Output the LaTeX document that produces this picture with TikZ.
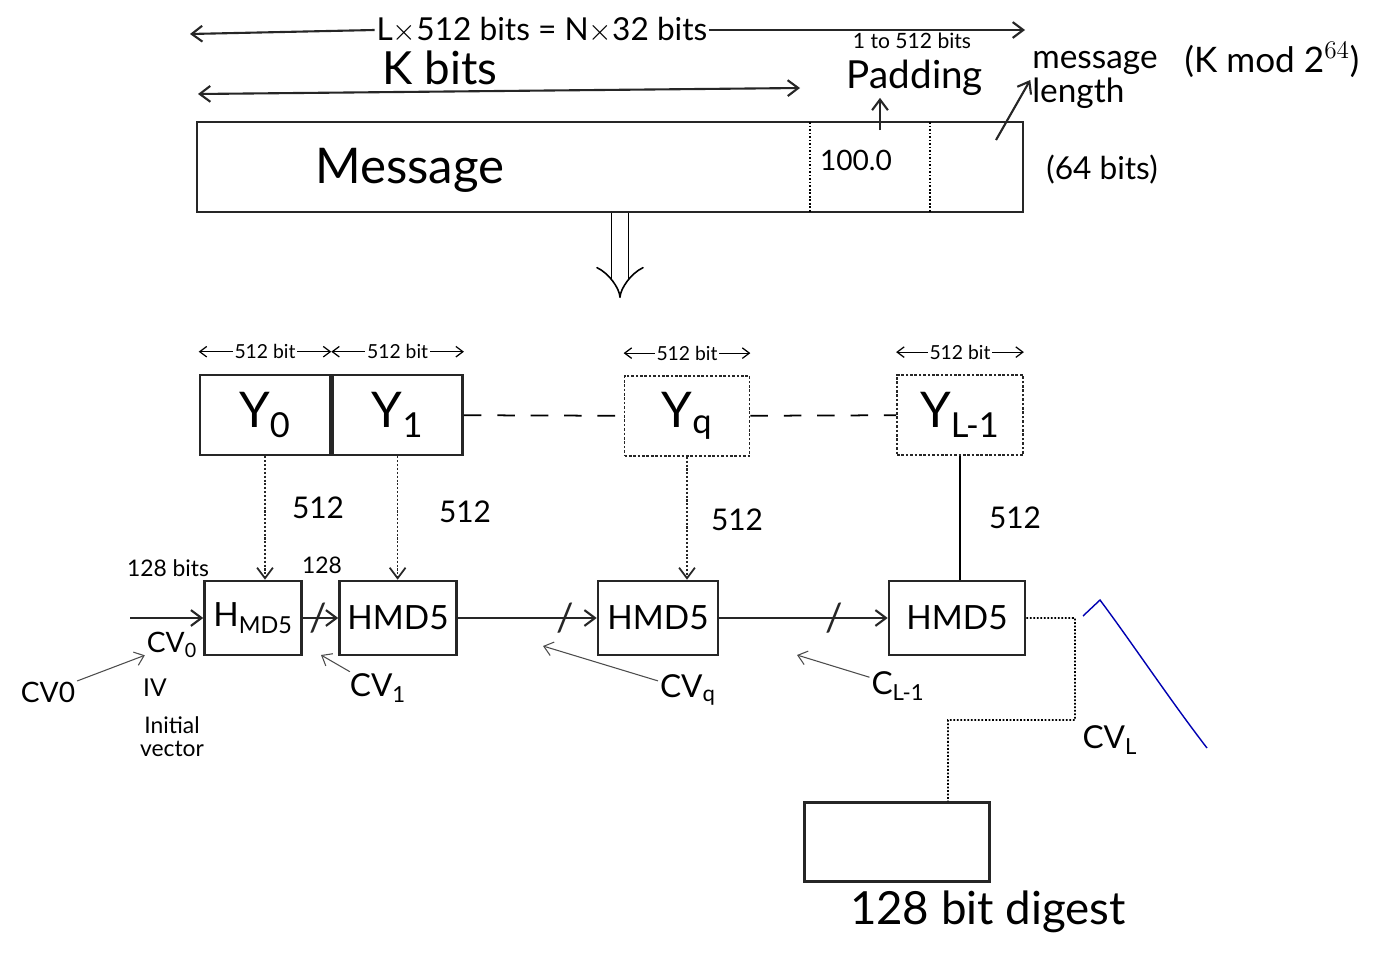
\documentclass[tikz,border=0pt]{standalone}
\usepackage{fontspec}
\setmainfont{Lato}
\usetikzlibrary{arrows.meta, positioning}

\begin{document}
\begin{tikzpicture}[
    x=0.02cm, y=-0.02cm,
    txt/.style={font=\fontsize{#1}{#1}\selectfont, inner sep=1pt},
    block/.style={
      rectangle,
      draw=black!85,
      line width=1.5pt,
      minimum width=2.6cm,
      minimum height=1.6cm,
      inner sep=0pt,
      font=\fontsize{28}{28}\selectfont
    },
    mdbox/.style={
      rectangle,
      draw=black!85,
      line width=1.5pt,
      minimum height=1.48cm,
      inner sep=0pt,
      font=\fontsize{19}{19}\selectfont
    },
    faint/.style={densely dotted, line width=1pt},
    arrow/.style={
      -{Straight Barb[length=6pt, width=9pt]},
      line width=1.2pt,
      black!85
    },
    twoway/.style={
      arrow,
      {Straight Barb[length=6pt, width=9pt]}-{Straight Barb[length=6pt, width=9pt]}
    },
    span/.style={
      {Straight Barb[length=4pt, width=6pt]}-{Straight Barb[length=4pt, width=6pt]},
      line width=0.7pt
    },
    pointer/.style={-{Straight Barb[length=5pt, width=8pt]}, line width=0.6pt, black!70},
    slash/.style={txt=22, inner sep=0pt}
  ]

    % Page
    \path[use as bounding box, fill=white] (0,0) rectangle (1380,967);

    % Lengths over the message
    \node[txt=18] (total) at (542,30) {L$\times$512 bits = N$\times$32 bits};
    \coordinate (totall) at (190,34);
    \coordinate (totalr) at (1025,30);
    \draw[arrow] (total.west) -- (totall);
    \draw[arrow] (total.east) -- (totalr);
    \node[txt=12] (padlen) at (912,41) {1 to 512 bits};

    \node[txt=26] (kbits) at (440,68) {K bits};
    \coordinate (kl) at (198,94);
    \coordinate (kr) at (800,88);
    \draw[twoway] (kl) -- (kr);

    % Message with padding and length
    \node[draw=black!85, line width=1.2pt, minimum width=16.52cm, minimum height=1.8cm] (msgbox) at (610,167) {};
    \node[txt=28] (msg) at (410,170) {Message};
    \draw[faint] (810,122) -- (810,212);
    \draw[faint] (930,122) -- (930,212);
    \node[txt=16] (pad0) at (856,160) {100.0};

    \node[txt=22] (pad) at (915,78) {Padding};
    \coordinate (padfoot) at (880,130);
    \draw[arrow] (padfoot) -- (padfoot |- pad.south);

    \node[txt=19, align=left] (mlen) at (1095,80) {message\\length};
    \coordinate (lenfoot) at (996,140);
    \draw[arrow] (lenfoot) -- (mlen.west);
    \node[txt=20] (kmod) at (1272,60) {(K mod 2$^{64}$)};
    \node[txt=18] (len64) at (1102,170) {(64 bits)};

    % Split into blocks
    \coordinate (split) at (620,298);
    \draw[double, double distance=9pt, line width=0.9pt, -{Implies}] (msgbox.south -| split) -- (split);

    % Row 1
    \node[block] (y0) at (265,415) {Y\textsubscript{0}};
    \node[block, right=0pt of y0] (y1) {Y\textsubscript{1}};
    \node[block, faint, minimum width=2.5cm] (yq) at (687,416) {Y\textsubscript{q}};
    \node[block, faint, minimum width=2.52cm] (yl) at (960,415) {Y\textsubscript{L-1}};

    \draw[dash pattern=on 10pt off 9pt, line width=1pt] (y1) -- (yq);
    \draw[dash pattern=on 10pt off 9pt, line width=1pt] (yq) -- (yl);

    \draw[span] ([yshift=0.44cm]y0.north west) -- node[fill=white, txt=11] {512 bit} ([yshift=0.44cm]y0.north east);
    \draw[span] ([yshift=0.44cm]y1.north west) -- node[fill=white, txt=11] {512 bit} ([yshift=0.44cm]y1.north east);
    \draw[span] ([yshift=0.44cm]yq.north west) -- node[fill=white, txt=11] {512 bit} ([yshift=0.44cm]yq.north east);
    \draw[span] ([yshift=0.44cm]yl.north west) -- node[fill=white, txt=11] {512 bit} ([yshift=0.44cm]yl.north east);

    % Row 2
    \node[mdbox, minimum width=1.94cm] (h0) at (253,618) {H\textsubscript{MD5}};
    \node[mdbox, minimum width=2.34cm] (h1) at (398,618) {HMD5};
    \node[mdbox, minimum width=2.4cm] (hq) at (658,618) {HMD5};
    \node[mdbox, minimum width=2.72cm] (hl) at (957,618) {HMD5};

    % Blocks into the compression function
    \draw[arrow, faint] (y0.south) -- (y0.south |- h0.north);
    \draw[arrow, faint] (y1.south) -- (y1.south |- h1.north);
    \draw[arrow, faint] (yq.south) -- (yq.south |- hq.north);
    \draw[line width=1.2pt] (yl.south) -- (yl.south |- hl.north);
    \node[txt=17] (w0) at (318,508) {512};
    \node[txt=17] (w1) at (465,512) {512};
    \node[txt=17] (wq) at (737,520) {512};
    \node[txt=17] (wl) at (1015,518) {512};

    % Chaining variables
    \coordinate (cvin) at (130,618);
    \draw[arrow] (cvin) -- (h0);
    \draw[arrow] (h0) -- node[slash, pos=0.45] {/} (h1);
    \draw[arrow] (h1) -- node[slash, pos=0.77] {/} (hq);
    \draw[arrow] (hq) -- node[slash, pos=0.68] {/} (hl);

    \node[txt=13] (in128) at (168,568) {128 bits};
    \node[txt=13] (c128) at (322,565) {128};
    \node[txt=16] (cv0) at (172,645) {CV\textsubscript{0}};
    \node[txt=16] (cvo) at (48,692) {CV0};
    \draw[pointer] (cvo) -- (cv0);
    \node[txt=14] (iv) at (155,688) {IV};
    \node[txt=13, align=center] (ivtext) at (172,737) {Initial\\vector};

    \node[txt=18] (cv1) at (378,688) {CV\textsubscript{1}};
    \coordinate (j1) at (321,655);
    \draw[pointer] (cv1) -- (j1);
    \node[txt=18] (cvq) at (688,690) {CV\textsubscript{q}};
    \coordinate (j2) at (543,646);
    \draw[pointer] (cvq) -- (j2);
    \node[txt=18] (cvl1) at (898,686) {C\textsubscript{L-1}};
    \coordinate (j3) at (797,655);
    \draw[pointer] (cvl1) -- (j3);

    % Output
    \node[draw=black!85, line width=1.2pt, minimum width=3.7cm, minimum height=1.58cm] (digest) at (897,842) {};
    \node[txt=26] (dlabel) at (988,912) {128 bit digest};
    \coordinate (outturn) at (1075,618);
    \coordinate (outfoot) at (1075,720);
    \draw[faint] (hl.east) -- (outturn) -- (outfoot) -- (outfoot -| 948,0) -- ([xshift=1.02cm]digest.north);
    \node[txt=18] (cvl) at (1110,740) {CV\textsubscript{L}};
    \draw[blue!70!black, line width=0.8pt] (1083,616) -- (1100,600) .. controls (1130,640) and (1170,700) .. (1207,748);

  \end{tikzpicture}
\end{document}
